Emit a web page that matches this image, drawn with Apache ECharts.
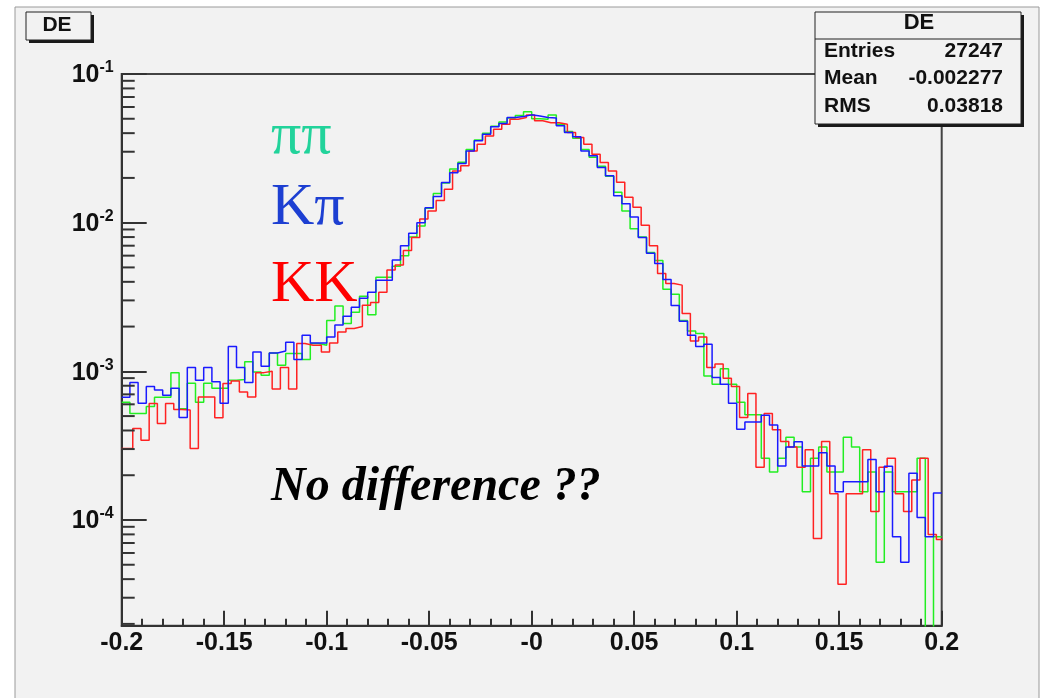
<!DOCTYPE html>
<html>
<head>
<meta charset="utf-8">
<script src="https://cdn.jsdelivr.net/npm/echarts@6/dist/echarts.min.js"></script>
<style>
html,body{margin:0;padding:0;background:#ffffff;}
#c{width:1044px;height:698px;}
</style>
</head>
<body>
<div id="c"></div>
<script>
// ---- data ----
const binLow = -0.2;
const binWidth = 0.004;
const nBins = 100;
const redShift = 0.0014;   // the KK histogram's bin edges sit slightly to the right

// ππ (green)
const piPi = [
  6.2e-4,5.2e-4,5.2e-4,5.8e-4,6.7e-4,6.7e-4,9.8e-4,5.6e-4,8.3e-4,6.2e-4,
  8.3e-4,7.7e-4,7.7e-4,8.7e-4,8.8e-4,1.16e-3,9.9e-4,9.4e-4,1.33e-3,1.1e-3,
  1.32e-3,1.32e-3,1.2e-3,1.54e-3,1.5e-3,2.2e-3,2.75e-3,2.1e-3,2.5e-3,3.2e-3,
  2.4e-3,4.3e-3,4.3e-3,5.1e-3,6.0e-3,8.0e-3,9.5e-3,1.25e-2,1.57e-2,1.85e-2,
  2.3e-2,2.55e-2,3.1e-2,3.6e-2,4.0e-2,4.45e-2,4.75e-2,5.05e-2,5.25e-2,5.58e-2,
  5.0e-2,4.96e-2,5.3e-2,4.6e-2,4.1e-2,3.7e-2,3.1e-2,2.75e-2,2.4e-2,2.05e-2,
  1.6e-2,1.2e-2,9.1e-3,8.0e-3,6.3e-3,5.56e-3,3.57e-3,3.3e-3,2.2e-3,1.87e-3,
  1.8e-3,9.3e-4,8.2e-4,1.04e-3,8.2e-4,6.2e-4,5.1e-4,5.1e-4,2.6e-4,2.1e-4,
  2.6e-4,3.6e-4,3.1e-4,1.55e-4,2.6e-4,3.1e-4,2.1e-4,2.1e-4,3.6e-4,3.1e-4,
  1.55e-4,2.1e-4,5.2e-5,2.1e-4,1.55e-4,1.55e-4,1.55e-4,2.6e-4,0,7.7e-5
];
// Kπ (blue)
const kPi = [
  6.7e-4,8.4e-4,6.1e-4,7.9e-4,7.5e-4,6.9e-4,7.7e-4,4.9e-4,1.06e-3,8.7e-4,
  1.06e-3,8.5e-4,6.1e-4,1.47e-3,1.06e-3,8.4e-4,1.35e-3,1.08e-3,1.33e-3,1.37e-3,
  1.57e-3,1.2e-3,1.75e-3,1.55e-3,1.55e-3,1.7e-3,2.05e-3,2.35e-3,2.7e-3,3.1e-3,
  3.4e-3,4.1e-3,4.1e-3,5.6e-3,7.0e-3,8.5e-3,1.0e-2,1.26e-2,1.5e-2,1.86e-2,
  2.17e-2,2.5e-2,3.04e-2,3.55e-2,3.94e-2,4.41e-2,4.64e-2,5.09e-2,5.17e-2,5.31e-2,
  5.22e-2,5.09e-2,5.05e-2,4.48e-2,4.04e-2,3.78e-2,3.04e-2,2.82e-2,2.35e-2,2.07e-2,
  1.52e-2,1.34e-2,1.09e-2,7.96e-3,6.22e-3,5.31e-3,4.14e-3,2.77e-3,2.17e-3,1.75e-3,
  1.47e-3,1.52e-3,9.1e-4,8.2e-4,6.1e-4,4.08e-4,4.57e-4,4.57e-4,5.07e-4,4.35e-4,
  2.31e-4,3.1e-4,3.36e-4,2.31e-4,2.31e-4,2.83e-4,2.31e-4,1.55e-4,1.81e-4,1.81e-4,
  1.81e-4,2.55e-4,1.55e-4,2.3e-4,7.7e-5,5.2e-5,2.06e-4,1.04e-4,7.7e-5,1.52e-4
];
// KK (red)
const kK = [
  3.03e-4,4.12e-4,3.44e-4,6.07e-4,4.46e-4,6.07e-4,5.53e-4,5.5e-4,3.03e-4,6.73e-4,
  6.73e-4,4.87e-4,8.27e-4,8.61e-4,7.26e-4,6.73e-4,9.8e-4,1.0e-3,7.6e-4,1.06e-3,
  7.6e-4,1.54e-3,1.5e-3,1.5e-3,1.35e-3,1.55e-3,1.84e-3,1.94e-3,2.0e-3,2.78e-3,
  2.9e-3,3.4e-3,4.8e-3,5.2e-3,6.5e-3,7.96e-3,1.06e-2,1.2e-2,1.41e-2,1.68e-2,
  2.23e-2,2.41e-2,3.04e-2,3.37e-2,3.83e-2,4.25e-2,4.59e-2,4.96e-2,5.09e-2,5.3e-2,
  4.84e-2,4.7e-2,4.7e-2,4.59e-2,4.04e-2,3.74e-2,3.37e-2,2.89e-2,2.54e-2,2.23e-2,
  1.87e-2,1.48e-2,1.27e-2,9.6e-3,7.0e-3,4.55e-3,3.9e-3,3.8e-3,2.45e-3,1.6e-3,
  1.7e-3,1.06e-3,1.12e-3,9.0e-4,7.9e-4,4.9e-4,7.1e-4,2.26e-4,5.2e-4,4.05e-4,
  3.37e-4,3.1e-4,2.26e-4,2.97e-4,7.5e-5,3.37e-4,1.5e-4,3.7e-5,1.5e-4,1.5e-4,
  2.97e-4,1.14e-4,2.26e-4,2.6e-4,1.5e-4,1.14e-4,1.86e-4,2.6e-4,8.0e-5,7.4e-5
];

const xMin = -0.2, xMax = 0.2, xInterval = 0.05;
const xTickLabels = ['-0.2','-0.15','-0.1','-0.05','-0','0.05','0.1','0.15','0.2'];
const yMin = 1.945e-5, yMax = 0.1;
const yTickValues = [1e-4, 1e-3, 1e-2, 1e-1];
const yTickExponents = ['-4', '-3', '-2', '-1'];
const yTickBase = '10';

const histTitle = 'DE';
const statsRows = [['Entries', '27247'], ['Mean', '-0.002277'], ['RMS', '0.03818']];
const legendLabels = ['\u03c0\u03c0', 'K\u03c0', 'KK'];
const noteText = 'No difference ??';

// ---- build ----
const FLOOR = 1e-8; // empty bins fall below the axis and are clipped
function stepPoints(vals, shift) {
  const pts = [];
  for (let i = 0; i < vals.length; i++) {
    const x = i === 0 ? binLow : binLow + shift + i * binWidth;
    pts.push([x, vals[i] > 0 ? vals[i] : FLOOR]);
  }
  const last = vals[vals.length - 1];
  pts.push([binLow + shift + nBins * binWidth, last > 0 ? last : FLOOR]);
  return pts;
}

const yMinorTicks = [];
for (let e = -5; e <= -2; e++) {
  for (let m = 2; m <= 9; m++) {
    const v = m * Math.pow(10, e);
    if (v >= yMin && v < yMax) yMinorTicks.push(v);
  }
}

const SANS = '"Liberation Sans", Arial, Helvetica, sans-serif';
const SERIF = '"Liberation Serif", "Times New Roman", Times, serif';
const AX = '#333333';

const chart = echarts.init(document.getElementById('c'), null, {renderer: 'canvas'});

function histSeries(name, vals, shift, color, z) {
  return {
    name: name,
    type: 'line',
    step: 'end',
    data: stepPoints(vals, shift),
    showSymbol: false,
    symbol: 'none',
    clip: true,
    z: z,
    lineStyle: {color: color, width: 1.5},
    emphasis: {disabled: true},
    silent: true
  };
}

const statsLeft = 815, statsTop = 12, statsW = 206, statsH = 112;

const option = {
  animation: false,
  backgroundColor: '#ffffff',
  grid: {
    left: 121.7, top: 74, right: 102.3, bottom: 72.3,
    show: true, borderColor: '#444444', borderWidth: 2, backgroundColor: 'transparent'
  },
  xAxis: {
    type: 'value',
    min: xMin, max: xMax, interval: xInterval,
    axisLine: {show: true, onZero: false, lineStyle: {color: AX, width: 2}},
    axisTick: {show: true, inside: true, length: 15, lineStyle: {color: AX, width: 2}},
    minorTick: {show: true, splitNumber: 5, length: 7, lineStyle: {color: AX, width: 2}},
    splitLine: {show: false},
    axisLabel: {
      margin: 5,
      fontFamily: SANS, fontWeight: 'bold', fontSize: 25, color: '#111111',
      formatter: function (v) {
        const idx = Math.round((v - xMin) / xInterval);
        return xTickLabels[idx] !== undefined ? xTickLabels[idx] : '';
      }
    }
  },
  yAxis: {
    type: 'log', logBase: 10,
    min: yMin, max: yMax,
    axisLine: {show: true, onZero: false, lineStyle: {color: AX, width: 2}},
    axisTick: {show: true, inside: true, length: 25, lineStyle: {color: AX, width: 2}},
    splitLine: {show: false},
    axisLabel: {
      margin: 8,
      showMinLabel: false,
      formatter: function (v) {
        const lg = Math.log10(v);
        for (let i = 0; i < yTickValues.length; i++) {
          if (Math.abs(Math.log10(yTickValues[i]) - lg) < 1e-6) {
            return '{b|' + yTickBase + '}{s|' + yTickExponents[i] + '}';
          }
        }
        return '';
      },
      rich: {
        b: {fontFamily: SANS, fontWeight: 'bold', fontSize: 25, color: '#111111', lineHeight: 28, verticalAlign: 'bottom'},
        s: {fontFamily: SANS, fontWeight: 'bold', fontSize: 16, color: '#111111', lineHeight: 16, verticalAlign: 'top'}
      }
    }
  },
  series: [
    histSeries('\u03c0\u03c0', piPi, 0, '#22ee22', 3),
    histSeries('KK', kK, redShift, '#ff2222', 4),
    histSeries('K\u03c0', kPi, 0, '#1a1aff', 5),
    {
      type: 'custom',
      name: 'yMinorTicks',
      coordinateSystem: 'cartesian2d',
      silent: true,
      z: 6,
      data: yMinorTicks.map(function (v) { return [xMin, v]; }),
      renderItem: function (params, api) {
        const p = api.coord([api.value(0), api.value(1)]);
        return {
          type: 'line',
          shape: {x1: p[0], y1: p[1], x2: p[0] + 13, y2: p[1]},
          style: {stroke: AX, lineWidth: 2}
        };
      }
    }
  ],
  graphic: [
    // canvas pad
    {type: 'rect', z: -100, silent: true,
     shape: {x: 15, y: 7, width: 1024, height: 700},
     style: {fill: '#f2f2f2', stroke: '#9a9a9a', lineWidth: 1}},
    // title box
    {type: 'rect', z: 50, silent: true, shape: {x: 29, y: 15, width: 65, height: 28}, style: {fill: '#1a1a1a'}},
    {type: 'rect', z: 51, silent: true, shape: {x: 26, y: 12, width: 65, height: 28}, style: {fill: '#f2f2f2', stroke: '#222222', lineWidth: 1}},
    {type: 'text', z: 52, silent: true, x: 57, y: 25,
     style: {text: histTitle, fontFamily: SANS, fontWeight: 'bold', fontSize: 21, fill: '#111111', align: 'center', verticalAlign: 'middle'}},
    // stats box
    {type: 'rect', z: 60, silent: true, shape: {x: statsLeft + 3, y: statsTop + 3, width: statsW, height: statsH}, style: {fill: '#1a1a1a'}},
    {type: 'rect', z: 61, silent: true, shape: {x: statsLeft, y: statsTop, width: statsW, height: statsH}, style: {fill: '#f2f2f2', stroke: '#222222', lineWidth: 1}},
    {type: 'line', z: 62, silent: true, shape: {x1: statsLeft, y1: 39, x2: statsLeft + statsW, y2: 39}, style: {stroke: '#222222', lineWidth: 1}},
    {type: 'text', z: 63, silent: true, x: statsLeft + statsW / 2 + 1, y: 23,
     style: {text: histTitle, fontFamily: SANS, fontWeight: 'bold', fontSize: 22, fill: '#111111', align: 'center', verticalAlign: 'middle'}},
  ].concat(
    statsRows.map(function (r, i) {
      return {type: 'text', z: 63, silent: true, x: statsLeft + 9, y: 51 + i * 27.5,
        style: {text: r[0], fontFamily: SANS, fontWeight: 'bold', fontSize: 21, fill: '#111111', align: 'left', verticalAlign: 'middle'}};
    }),
    statsRows.map(function (r, i) {
      return {type: 'text', z: 63, silent: true, x: statsLeft + 188, y: 51 + i * 27.5,
        style: {text: r[1], fontFamily: SANS, fontWeight: 'bold', fontSize: 21, fill: '#111111', align: 'right', verticalAlign: 'middle'}};
    }),
    [
      {type: 'text', z: 40, silent: true, x: 271, y: 137,
       style: {text: legendLabels[0], fontFamily: SERIF, fontSize: 60, fill: '#22d39b', align: 'left', verticalAlign: 'middle'}},
      {type: 'text', z: 40, silent: true, x: 271, y: 208,
       style: {text: legendLabels[1], fontFamily: SERIF, fontSize: 60, fill: '#1d3fd2', align: 'left', verticalAlign: 'middle'}},
      {type: 'text', z: 40, silent: true, x: 271, y: 285,
       style: {text: legendLabels[2], fontFamily: SERIF, fontSize: 60, fill: '#ff0000', align: 'left', verticalAlign: 'middle'}},
      {type: 'text', z: 40, silent: true, x: 271, y: 488,
       style: {text: noteText, fontFamily: SERIF, fontStyle: 'italic', fontWeight: 'bold', fontSize: 48, fill: '#000000', align: 'left', verticalAlign: 'middle'}}
    ]
  )
};

chart.setOption(option);
</script>
</body>
</html>
